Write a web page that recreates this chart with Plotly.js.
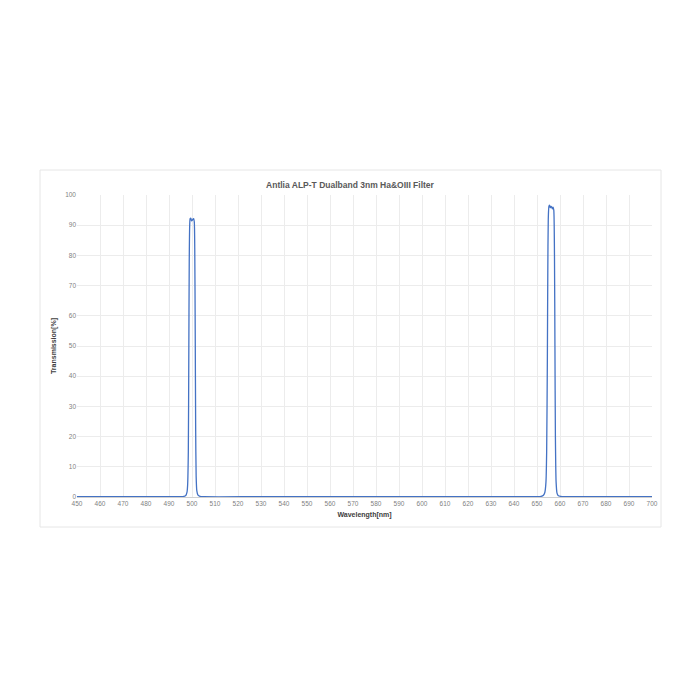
<!DOCTYPE html>
<html>
<head>
<meta charset="utf-8">
<script src="https://cdn.plot.ly/plotly-3.0.1.min.js"></script>
<style>html,body{margin:0;padding:0;background:#fff;}#chart{width:700px;height:700px;}</style>
</head>
<body>
<div id="chart"></div>
<script>
// Wavelength (nm) samples
const wavelength = [
  450, 480, 495, 496.5, 497.3, 497.8, 498.1, 498.4, 498.6, 498.8, 499.0, 499.2,
  499.5, 499.8, 500.1, 500.4, 500.7, 501.0, 501.2, 501.4, 501.6, 501.8, 502.1,
  502.6, 503.5, 505, 530, 580, 630, 650, 651.8, 652.8, 653.4, 653.9, 654.2,
  654.5, 654.7, 654.9, 655.2, 655.5, 655.8, 656.1, 656.4, 656.7, 657.0, 657.3,
  657.6, 657.8, 658.0, 658.3, 658.7, 659.3, 660.3, 662, 680, 700
];
// Transmission (%) values
const transmission = [
  0.1, 0.1, 0.1, 0.2, 0.5, 1.5, 4, 15, 45, 78, 90, 92.2,
  92.3, 91.4, 91.6, 92.0, 92.2, 91.0, 82, 55, 22, 7, 2,
  0.6, 0.2, 0.1, 0.1, 0.1, 0.1, 0.1, 0.2, 0.6, 1.5, 5, 15,
  45, 75, 92, 96.3, 96.6, 95.8, 96.2, 96.0, 95.4, 96.0, 95.0,
  80, 50, 20, 5, 1.3, 0.4, 0.2, 0.1, 0.1, 0.1
];
const chartTitle = "Antlia ALP-T Dualband 3nm Ha&OIII Filter";
const xTitle = "Wavelength[nm]";
const yTitle = "Transmission[%]";

const trace = {
  x: wavelength, y: transmission, type: "scatter", mode: "lines",
  line: {color: "#4472C4", width: 1.3, shape: "spline", smoothing: 0.6},
  hoverinfo: "skip"
};

const font = "Liberation Sans, Arial, sans-serif";
const layout = {
  width: 700, height: 700,
  paper_bgcolor: "#ffffff", plot_bgcolor: "#ffffff",
  margin: {l: 77, r: 48, t: 195, b: 203},
  showlegend: false,
  title: {text: "<b>" + chartTitle + "</b>", font: {family: font, size: 8.5, color: "#595959"},
          x: 0.5, xanchor: "center", y: 1 - 185/700, yanchor: "middle"},
  xaxis: {
    range: [450, 700], dtick: 10, tick0: 450, showgrid: true, gridcolor: "#ececec", gridwidth: 1,
    zeroline: false, showline: true, linecolor: "#d0d0d0", ticks: "",
    tickfont: {family: font, size: 6.5, color: "#7f7f7f"},
    title: {text: "<b>" + xTitle + "</b>", font: {family: font, size: 7, color: "#404040"}, standoff: 6}
  },
  yaxis: {
    range: [0, 100], dtick: 10, showgrid: true, gridcolor: "#ececec", gridwidth: 1,
    zeroline: false, showline: false, ticks: "",
    tickfont: {family: font, size: 6.5, color: "#7f7f7f"},
    title: {text: "<b>" + yTitle + "</b>", font: {family: font, size: 7, color: "#404040"}, standoff: 7}
  },
  shapes: [{
    type: "rect", xref: "paper", yref: "paper",
    x0: (40 - 77) / 575, x1: (661 - 77) / 575,
    y0: -(527 - 497) / 302, y1: 1 + (195 - 170) / 302,
    line: {color: "#e6e6e6", width: 1}, fillcolor: "rgba(0,0,0,0)", layer: "below"
  }]
};

Plotly.newPlot("chart", [trace], layout, {displayModeBar: false, staticPlot: true});
</script>
</body>
</html>
